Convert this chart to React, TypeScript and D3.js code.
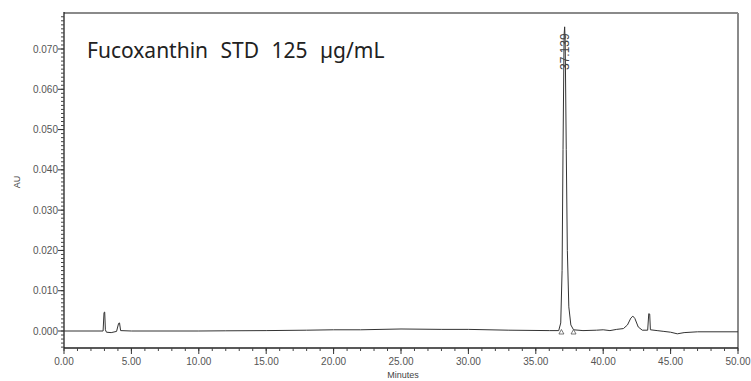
import React from "react";
import * as d3 from "d3";

const traceTimes = [0, 2.9, 2.97, 3.02, 3.07, 3.15, 3.5, 3.9, 4.05, 4.12, 4.2, 5, 10, 12, 15, 18, 20, 22, 25, 28, 30, 33, 36, 36.7, 36.85, 36.95, 37.02, 37.1, 37.14, 37.18, 37.26, 37.34, 37.45, 37.6, 37.8, 38.5, 39.5, 40, 40.5, 41, 41.5, 41.8, 42.05, 42.2, 42.35, 42.6, 42.9, 43.3, 43.38, 43.45, 43.5, 44, 44.5, 45, 45.5, 46, 47, 50];
const traceAU = [0, 0, 0.0046, 0.0047, 0.0003, -0.0003, -0.0004, -0.0001, 0.0019, 0.002, 0.0001, 0, 0, 0.00005, 0.0001, 0.0002, 0.0003, 0.0003, 0.0005, 0.0004, 0.0004, 0.0002, 0.0001, 0.0001, 0.002, 0.015, 0.045, 0.0735, 0.0755, 0.072, 0.045, 0.02, 0.006, 0.0015, 0.0003, 0.0001, 0.0002, 0.0003, 0.0001, 0.0004, 0.0006, 0.0015, 0.0032, 0.0037, 0.0031, 0.001, 0.0002, 0.0002, 0.0043, 0.0042, 0.0003, 0.0001, -0.0001, -0.0003, -0.0007, -0.0004, -0.0002, -0.0002];

const xMajorTicks = [0, 5, 10, 15, 20, 25, 30, 35, 40, 45, 50];
const yMajorTicks = [0, 0.01, 0.02, 0.03, 0.04, 0.05, 0.06, 0.07];
const peakLabels = ["37.139"];
const peakTimes = [37.139];
const markerTimes = [36.9, 37.8];
const titleText = "Fucoxanthin STD 125 µg/mL";

const W = 751, H = 381;
const left = 64, right = 738, top = 13, bottom = 348;

export default function App() {
  const x = d3.scaleLinear().domain([0, 50]).range([left, right]);
  const y = d3.scaleLinear().domain([0, 0.07]).range([331, 49]);
  const yMin = y.invert(bottom);
  const yMax = y.invert(top);

  const pts: [number, number][] = traceTimes.map((t, i) => [t, traceAU[i]]);
  const line = d3.line<[number, number]>().x(d => x(d[0])).y(d => y(d[1]));

  const xMinor = d3.range(0, 51, 1);
  const yMinor = d3.range(Math.ceil(yMin * 1000), Math.floor(yMax * 1000) + 1).map(v => v / 1000);

  const tickFont = "Arial, 'Liberation Sans', sans-serif";

  return (
    <svg width={W} height={H} style={{ position: "absolute", left: 0, top: 0, background: "#fff" }}>
      <rect x={0} y={0} width={W} height={H} fill="#fff" />
      <line x1={left} x2={right} y1={top} y2={top} stroke="#8a8a8a" strokeWidth={2} />
      <line x1={right} x2={right} y1={top} y2={bottom} stroke="#8a8a8a" strokeWidth={2} />
      <line x1={left} x2={left} y1={top - 1} y2={bottom} stroke="#222" strokeWidth={1.3} />
      <line x1={left} x2={right} y1={bottom} y2={bottom} stroke="#222" strokeWidth={1.3} />
      {xMinor.map(t => (
        <line key={"xm" + t} x1={x(t)} x2={x(t)} y1={bottom} y2={bottom + 3} stroke="#444" strokeWidth={1} />
      ))}
      {xMajorTicks.map(t => (
        <g key={"xM" + t}>
          <line x1={x(t)} x2={x(t)} y1={bottom} y2={bottom + 6} stroke="#333" strokeWidth={1} />
          <text x={x(t)} y={365} textAnchor="middle" fontFamily={tickFont} fontSize={10} fill="#555">{t.toFixed(2)}</text>
        </g>
      ))}
      {yMinor.map(v => (
        <line key={"ym" + v} x1={left - 3} x2={left} y1={y(v)} y2={y(v)} stroke="#444" strokeWidth={1} />
      ))}
      {yMajorTicks.map(v => (
        <g key={"yM" + v}>
          <line x1={left - 6} x2={left} y1={y(v)} y2={y(v)} stroke="#333" strokeWidth={1} />
          <text x={left - 6} y={y(v) + 3.5} textAnchor="end" fontFamily={tickFont} fontSize={10} fill="#555">{v.toFixed(3)}</text>
        </g>
      ))}
      <text x={403} y={378} textAnchor="middle" fontFamily={tickFont} fontSize={9} fill="#444">Minutes</text>
      <text transform={`translate(20,182) rotate(-90)`} textAnchor="middle" fontFamily={tickFont} fontSize={9} fill="#444">AU</text>
      <path d={line(pts) || ""} fill="none" stroke="#333" strokeWidth={1} />
      {markerTimes.map(t => (
        <path key={"mk" + t} d={`M${x(t) - 2.5},${y(0) + 3} L${x(t)},${y(0) - 1.5} L${x(t) + 2.5},${y(0) + 3} Z`} fill="none" stroke="#555" strokeWidth={0.8} />
      ))}
      {peakTimes.map((t, i) => (
        <text key={"pl" + i} transform={`translate(${x(t) + 4.5},70) rotate(-90)`} textAnchor="start" fontFamily={tickFont} fontSize={12} fill="#444">{peakLabels[i]}</text>
      ))}
      <text x={87} y={58} fontFamily="'Noto Sans', 'Open Sans', sans-serif" fontSize={21} fill="#222" wordSpacing={7}>{titleText}</text>
    </svg>
  );
}
